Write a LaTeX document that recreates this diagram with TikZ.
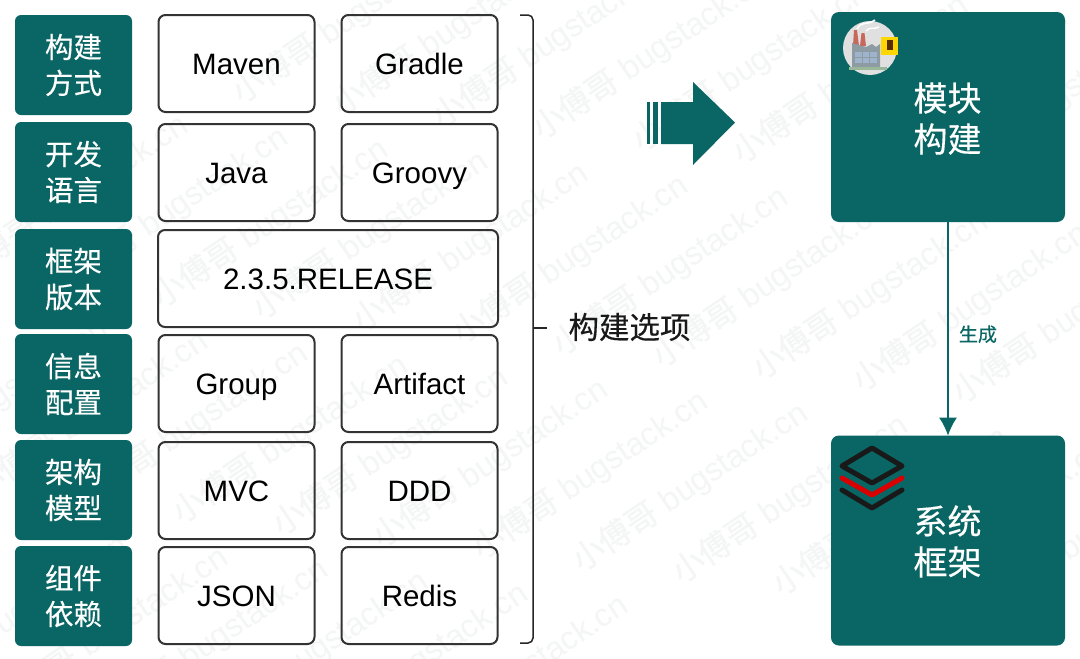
\documentclass[tikz,border=0pt]{standalone}
\usepackage{fontspec}
\setmainfont{Liberation Sans}
\newfontfamily\cjk[FakeBold=0.3]{Noto Sans CJK SC}
\usetikzlibrary{positioning, arrows.meta}
\definecolor{tealbox}{HTML}{0A6664}
\definecolor{markgray}{HTML}{F4F5F5}
\definecolor{plantgray}{HTML}{8F9BA3}
\definecolor{plantglass}{HTML}{9DB4CC}
\definecolor{plantred}{HTML}{C8675C}

\begin{document}
\begin{tikzpicture}[
    x=1pt, y=-1pt,
    sidenode/.style={rectangle, rounded corners=6pt, fill=tealbox, text=white, outer sep=0pt, minimum width=117pt, minimum height=100pt, inner sep=0pt, align=center, font=\cjk\fontsize{28.5}{36}\selectfont},
    optionnode/.style={rectangle, rounded corners=7pt, draw=black!80, line width=2pt, minimum width=156pt, minimum height=97pt, inner sep=0pt, text height=24pt, text depth=2pt, font=\fontsize{29.5}{34}\selectfont},
    widenode/.style={optionnode, minimum width=340pt},
    resultnode/.style={rectangle, rounded corners=8pt, fill=tealbox, outer sep=0pt, minimum width=234pt, minimum height=210pt},
    resulttext/.style={text=white, align=center, inner sep=0pt, font=\cjk\fontsize{34}{41}\selectfont},
    watermark/.style={text=markgray, rotate=34, font=\fontsize{32}{36}\selectfont},
]
\useasboundingbox (0,0) rectangle (1080,659);
\fill[white] (0,0) rectangle (1080,659);
% watermark behind everything
\foreach \i in {-8,...,8}{
  \foreach \j in {-3,...,3}{
    \pgfmathsetmacro{\mx}{590+\i*100+\j*280}
    \pgfmathsetmacro{\my}{475+\i*12-\j*180}
    \pgfmathtruncatemacro{\vis}{and(and(\mx>-60,\mx<1140),and(\my>-30,\my<690))}
    \ifnum\vis=1
      \node[watermark](mark\i\j) at (\mx,\my){{\cjk 小傅哥} bugstack.cn};
    \fi
  }
}
% left column
\node[sidenode](build) at (73.5,65){构建\\方式};
\node[sidenode](lang)[below = 7pt of build]{开发\\语言};
\node[sidenode](frame)[below = 7pt of lang]{框架\\版本};
\node[sidenode](info)[below = 5pt of frame]{信息\\配置};
\node[sidenode](arch)[below = 6pt of info]{架构\\模型};
\node[sidenode](comp)[below = 6pt of arch]{组件\\依赖};
% option boxes
\node[optionnode](maven) at (236.5,63.5){Maven};
\node[optionnode](gradle)[right = 25pt of maven]{Gradle};
\node[optionnode](java)[below = 10pt of maven]{Java};
\node[optionnode](groovy)[right = 25pt of java]{Groovy};
\node[widenode](release) at (328,278.5){2.3.5.RELEASE};
\node[optionnode](group) at (236.5,383.5){Group};
\node[optionnode](artifact)[right = 25pt of group]{Artifact};
\node[optionnode](mvc)[below = 8pt of group]{MVC};
\node[optionnode](ddd)[right = 25pt of mvc]{DDD};
\node[optionnode](json)[below = 6pt of mvc]{JSON};
\node[optionnode](redis)[right = 25pt of json]{Redis};
% bracket
\coordinate (bracetop) at (520,15);
\coordinate (bracebottom) at (520,643);
\coordinate (bracetip) at (533,328);
\draw[black!85, line width=1.5pt, rounded corners=5pt] (bracetop) -- (533,15) -- (533,643) -- (bracebottom);
\node[font=\cjk\fontsize{30.5}{36}\selectfont, black!90](options) at (629.5,327){构建选项};
\coordinate (optionsleft) at (547,328);
\draw[black!85, line width=1.5pt] (bracetip) -- (optionsleft);
% big arrow
\fill[tealbox] (647,102) rectangle (650,144);
\fill[tealbox] (652.5,102) rectangle (658,144);
\fill[tealbox] (661,102) -- (693,102) -- (693,82) -- (735,122.5) -- (693,165) -- (693,144) -- (661,144) -- cycle;
% results
\node[resultnode](module) at (948,117){};
\node[resulttext](moduletext) at (947.5,118.5){模块\\构建};
\node[resultnode](system) at (948,540.5){};
\node[resulttext](systemtext) at (947.5,541.5){系统\\框架};
\draw[-{Latex[length=18pt, width=18pt]}, tealbox, line width=1.2pt] (module) -- (system) node[midway, right=7pt, yshift=-5.5pt, font=\cjk\fontsize{19}{22}\selectfont]{生成};
% factory icon
\fill[black!12] (870,48) circle (27);
\draw[white, line width=1.6pt] (857,29) .. controls (862,20) and (867,26) .. (875,20);
\draw[white, line width=1.4pt] (866,31) .. controls (870,26) and (873,30) .. (879,27);
\fill[plantred] (854,30) -- (857,30) -- (859,46) -- (853,46) -- cycle;
\fill[plantred] (861.5,33) -- (864.5,33) -- (866,46) -- (860,46) -- cycle;
\fill[plantgray] (852,43) -- (866,47) -- (872,44) -- (876,47) -- (880,44) -- (880,67) -- (852,67) -- cycle;
\foreach \wx in {855,862.5,870}{
  \foreach \wy in {52,58}{
    \fill[plantglass] (\wx,\wy) rectangle ++(6.5,5);
  }
}
\fill[green!30!black!40] (849,67) rectangle (887,70);
\fill[yellow!75!orange] (881,37) rectangle (898,55);
\fill[black!65!orange] (887,40) rectangle (893,50);
% stack icon
\draw[black!90, line width=5pt, line join=round] (872,448) -- (902,466) -- (872,483) -- (842,466) -- cycle;
\draw[red!85!black, line width=5pt, line cap=round, line join=round] (842,478) -- (872,495) -- (902,478);
\draw[black!90, line width=5pt, line cap=round, line join=round] (842,490) -- (872,508) -- (902,490);
\end{tikzpicture}
\end{document}
